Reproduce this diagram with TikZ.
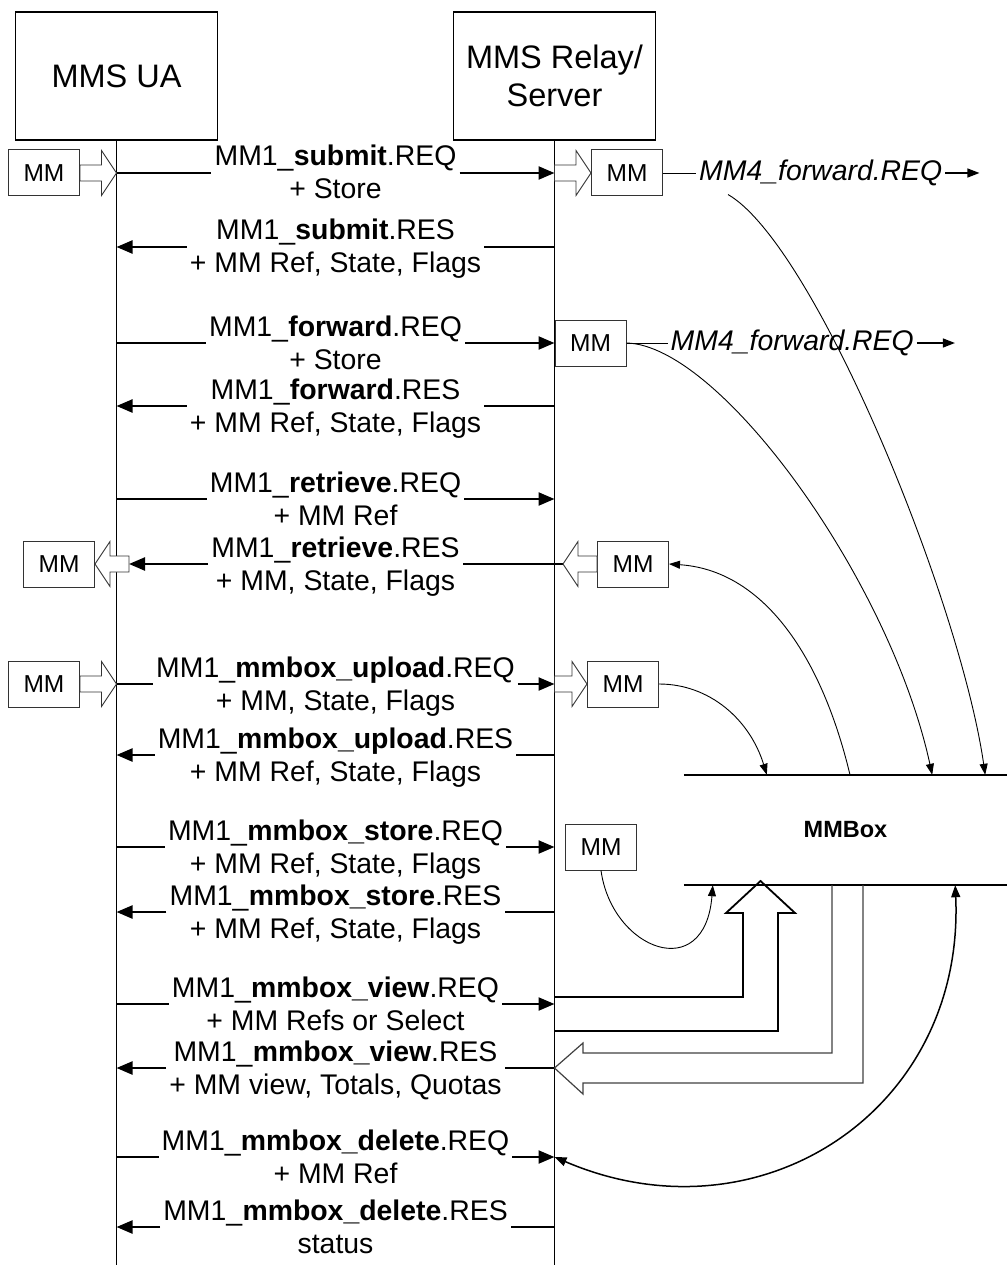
\documentclass[tikz,border=0pt]{standalone}
\usepackage{fontspec}
\setmainfont{Liberation Sans}
\usetikzlibrary{arrows.meta,calc,positioning}

% two centred lines, baseline on the first one
\newcommand{\twolines}[2]{\begin{tabular}[t]{@{}c@{}}#1\\#2\end{tabular}}
% hollow arrows: #1 tail, #2 tip
\newcommand{\fatright}[2]{%
  \draw[fat] let \p1=#1, \p2=#2 in
    (\x1,\y2+8pt) -- (\x2-15pt,\y2+8pt) -- (\x2-15pt,\y2+22.5pt) -- (\x2,\y2)
    -- (\x2-15pt,\y2-22.5pt) -- (\x2-15pt,\y2-8pt) -- (\x1,\y2-8pt) -- cycle;}
\newcommand{\fatleft}[2]{%
  \draw[fat] let \p1=#1, \p2=#2 in
    (\x1,\y2+8pt) -- (\x2+15pt,\y2+8pt) -- (\x2+15pt,\y2+22.5pt) -- (\x2,\y2)
    -- (\x2+15pt,\y2-22.5pt) -- (\x2+15pt,\y2-8pt) -- (\x1,\y2-8pt) -- cycle;}

\begin{document}
\begin{tikzpicture}[x=1pt,y=-1pt,
  ent/.style={draw,line width=1.5pt,minimum width=202pt,minimum height=128pt,inner sep=0pt,
    align=center,font=\fontsize{32.5}{38}\selectfont},
  mm/.style={draw=black!80,line width=1pt,minimum width=71pt,minimum height=46pt,inner sep=0pt,
    font=\fontsize{24.5}{28}\selectfont},
  lbl/.style={anchor=base,inner xsep=3pt,inner ysep=0pt,font=\fontsize{28.4}{33}\selectfont},
  fwd/.style={anchor=west,inner xsep=3pt,font=\itshape\fontsize{28.4}{33}\selectfont},
  life/.style={line width=1.4pt},
  msg/.style={line width=2.3pt},
  tip/.style={-{Triangle[length=16pt,width=13pt]}},
  fine/.style={line width=0.9pt},
  stip/.style={-{Triangle[length=11pt,width=8pt]}},
  fat/.style={draw=black!80,fill=white,line width=0.9pt}]
\useasboundingbox (0,0) rectangle (1007,1265);

% entities and lifelines
\node[ent] (ua) at (116.5,76) {MMS UA};
\node[ent] (relay) at (554.5,76) {MMS Relay/\\Server};
\coordinate (bot) at (0,1265);
\coordinate (mid) at (335.5,0);
\draw[life] (ua.south) -- (ua.south |- bot);
\draw[life] (relay.south) -- (relay.south |- bot);

% message rows
\foreach \n/\y in {1/173,2/247,3/343,4/406,5/499,6/564,7/684,8/755,
                   9/847,10/912,11/1004,12/1068,13/1157,14/1227}
  \coordinate (r\n) at (0,\y);

\node[lbl] (l1) at ([yshift=7pt]mid |- r1) {\twolines{MM1\_\textbf{submit}.REQ}{+ Store}};
\node[lbl] (l2) at ([yshift=7pt]mid |- r2) {\twolines{MM1\_\textbf{submit}.RES}{+ MM Ref, State, Flags}};
\node[lbl] (l3) at ([yshift=7pt]mid |- r3) {\twolines{MM1\_\textbf{forward}.REQ}{+ Store}};
\node[lbl] (l4) at ([yshift=7pt]mid |- r4) {\twolines{MM1\_\textbf{forward}.RES}{+ MM Ref, State, Flags}};
\node[lbl] (l5) at ([yshift=7pt]mid |- r5) {\twolines{MM1\_\textbf{retrieve}.REQ}{+ MM Ref}};
\node[lbl] (l6) at ([yshift=7pt]mid |- r6) {\twolines{MM1\_\textbf{retrieve}.RES}{+ MM, State, Flags}};
\node[lbl] (l7) at ([yshift=7pt]mid |- r7) {\twolines{MM1\_\textbf{mmbox\_upload}.REQ}{+ MM, State, Flags}};
\node[lbl] (l8) at ([yshift=7pt]mid |- r8) {\twolines{MM1\_\textbf{mmbox\_upload}.RES}{+ MM Ref, State, Flags}};
\node[lbl] (l9) at ([yshift=7pt]mid |- r9) {\twolines{MM1\_\textbf{mmbox\_store}.REQ}{+ MM Ref, State, Flags}};
\node[lbl] (l10) at ([yshift=7pt]mid |- r10) {\twolines{MM1\_\textbf{mmbox\_store}.RES}{+ MM Ref, State, Flags}};
\node[lbl] (l11) at ([yshift=7pt]mid |- r11) {\twolines{MM1\_\textbf{mmbox\_view}.REQ}{+ MM Refs or Select}};
\node[lbl] (l12) at ([yshift=7pt]mid |- r12) {\twolines{MM1\_\textbf{mmbox\_view}.RES}{+ MM view, Totals, Quotas}};
\node[lbl] (l13) at ([yshift=7pt]mid |- r13) {\twolines{MM1\_\textbf{mmbox\_delete}.REQ}{+ MM Ref}};
\node[lbl] (l14) at ([yshift=7pt]mid |- r14) {\twolines{MM1\_\textbf{mmbox\_delete}.RES}{status}};

% requests (UA -> relay)
\foreach \n in {1,3,5,7,9,11,13} {
  \draw[msg] (ua |- r\n) -- (l\n.west |- r\n);
  \draw[msg,tip] (l\n.east |- r\n) -- (relay |- r\n);
}
% responses (relay -> UA)
\foreach \n in {2,4,8,10,12,14} {
  \draw[msg] (relay |- r\n) -- (l\n.east |- r\n);
  \draw[msg,tip] (l\n.west |- r\n) -- (ua |- r\n);
}
\draw[msg] ([xshift=8.5pt]relay |- r6) -- (l6.east |- r6);
\draw[msg,tip] (l6.west |- r6) -- ([xshift=12.5pt]ua |- r6);

% MM boxes
\node[mm,anchor=east] (mmA) at ([xshift=-36.5pt]ua |- r1) {MM};
\node[mm,anchor=west] (mmB) at ([xshift=36.5pt]relay |- r1) {MM};
\node[mm,anchor=west] (mmC) at (relay |- r3) {MM};
\node[mm,anchor=east] (mmE) at ([xshift=-21.5pt]ua |- r6) {MM};
\node[mm,anchor=west] (mmF) at ([xshift=42.5pt]relay |- r6) {MM};
\node[mm,anchor=east] (mmG) at ([xshift=-36.5pt]ua |- r7) {MM};
\node[mm,anchor=west] (mmH) at ([xshift=32.5pt]relay |- r7) {MM};
\node[mm,anchor=west] (mmI) at ([xshift=10.5pt]relay |- r9) {MM};

\fatright{(mmA.east)}{(ua |- r1)}
\fatright{(relay |- r1)}{(mmB.west)}
\fatleft{([xshift=12.5pt]ua |- r6)}{(mmE.east)}
\fatleft{(mmF.west)}{([xshift=8.5pt]relay |- r6)}
\fatright{(mmG.east)}{(ua |- r7)}
\fatright{(relay |- r7)}{(mmH.west)}

% MM4 forwarding
\node[fwd] (fw1) at ([xshift=33pt]mmB.east) {MM4\_forward.REQ};
\node[fwd] (fw2) at ([xshift=41pt]mmC.east) {MM4\_forward.REQ};
\coordinate (fw1e) at ([xshift=34pt]fw1.east);
\coordinate (fw2e) at ([xshift=38pt]fw2.east);
\draw[fine] (mmB.east) -- (fw1.west);
\draw[fine] (mmC.east) -- (fw2.west);
\draw[line width=1.2pt,-{Triangle[length=12pt,width=9pt]}] (fw1.east) -- (fw1e);
\draw[line width=1.2pt,-{Triangle[length=12pt,width=9pt]}] (fw2.east) -- (fw2e);

% MMBox
\node[font=\bfseries\fontsize{23.5}{28}\selectfont,minimum width=323pt,minimum height=110pt,inner sep=0pt]
  (mmbox) at (845.5,830) {MMBox};
\draw[line width=2pt] (mmbox.north west) -- (mmbox.north east);
\draw[line width=2pt] (mmbox.south west) -- (mmbox.south east);

% links to and from the MMBox
\draw[fine,stip] ([xshift=32pt,yshift=-5pt]fw1.south west) .. controls (815,245) and (960,600) .. ([xshift=-22pt]mmbox.north east);
\draw[fine,stip] (mmC.east) .. controls (720,345) and (890,580) .. ([xshift=-75pt]mmbox.north east);
\draw[fine,stip] ([xshift=4.5pt]mmbox.north) .. controls (820,650) and (760,570) .. (mmF.east);
\draw[fine,stip] (mmH.east) .. controls (710,684) and (750,720) .. ([xshift=83pt]mmbox.north west);
\draw[fine,stip] (mmI.south) .. controls (612,950) and (705,985) .. ([xshift=29pt]mmbox.south west);
\draw[line width=1.5pt,{Triangle[length=12pt,width=9pt]}-{Triangle[length=12pt,width=9pt]}]
  ([xshift=-52pt]mmbox.south east) .. controls (965,1110) and (760,1245) .. (relay |- r13);

% view request into the MMBox, view result back
\draw[line width=1.8pt,line join=miter] ([yshift=7pt]relay |- r11) -| (743,913) -- (726,913) -- (760.5,881)
  -- (795,913) -- (778,913) |- ([yshift=-27pt]relay |- r11);
\draw[draw=black!75,line width=1.2pt] (832,885) -- (832,1053) -- (583,1053) -- (583,1043) -- (relay |- r12)
  -- (583,1094) -- (583,1083) -- (863,1083) -- (863,885);
\end{tikzpicture}
\end{document}
